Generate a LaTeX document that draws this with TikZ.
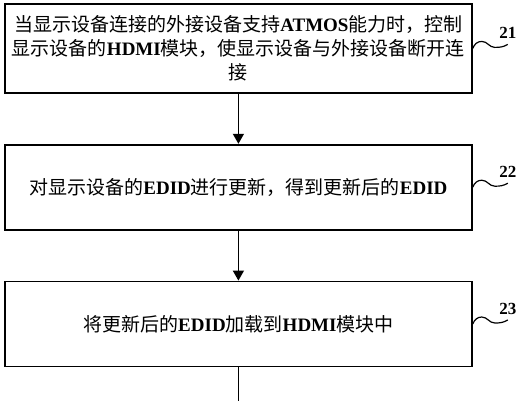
\documentclass[tikz,border=0pt]{standalone}
\usepackage{fontspec}
\setmainfont{Liberation Serif}
\newfontfamily\zhfont{Noto Sans CJK SC}
\usetikzlibrary{positioning}
\usetikzlibrary{arrows.meta}
\newcommand{\eng}[1]{{\normalfont\bfseries #1}}

\begin{document}
\begin{tikzpicture}[x=1pt, y=1pt, node distance=50pt,
  stepbox/.style={draw, rectangle, line width=1.8pt, minimum width=467pt, inner sep=0pt, align=center, font=\zhfont\fontsize{19}{24}\selectfont},
  flow/.style={-{Triangle[length=10pt,width=11pt]}, line width=1.4pt},
  wave/.style={line width=1.2pt},
  tag/.style={font=\bfseries\fontsize{17}{17}\selectfont}]
\useasboundingbox (0,0) rectangle (517,-400);
\node[stepbox, minimum height=89pt, anchor=north west] (S1) at (4,-3) {%
  当显示设备连接的外接设备支持\eng{ATMOS}能力时，控制\\
  显示设备的\eng{HDMI}模块，使显示设备与外接设备断开连\\
  接};
\node[stepbox, minimum height=85pt] (S2) [below=of S1] {对显示设备的\eng{EDID}进行更新，得到更新后的\eng{EDID}};
\node[stepbox, minimum height=85pt] (S3) [below=of S2] {将更新后的\eng{EDID}加载到\eng{HDMI}模块中};
\coordinate[below=46pt of S3] (S4);
\draw[flow] (S1.south) -- (S2.north);
\draw[flow] (S2.south) -- (S3.north);
\draw[flow] (S3.south) -- (S4);
% step numbers
\draw[wave] (S1.east) to[out=70,in=180] ++(9,7) to[out=0,in=180] ++(13,-6) to[out=0,in=210] ++(13,3) coordinate (W1);
\node[tag] (N1) [above=2pt of W1] {21};
\draw[wave] (S2.east) to[out=70,in=180] ++(9,7) to[out=0,in=180] ++(13,-6) to[out=0,in=210] ++(13,3) coordinate (W2);
\node[tag] (N2) [above=2pt of W2] {22};
\draw[wave] (S3.east) to[out=70,in=180] ++(9,7) to[out=0,in=180] ++(13,-6) to[out=0,in=210] ++(13,3) coordinate (W3);
\node[tag] (N3) [above=2pt of W3] {23};
\end{tikzpicture}
\end{document}
